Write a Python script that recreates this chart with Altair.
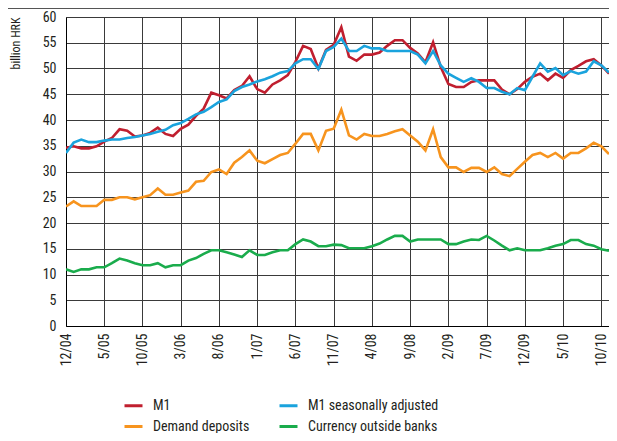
import altair as alt
import pandas as pd

months = list(range(72))
tick_labels = ["12/04", "5/05", "10/05", "3/06", "8/06", "1/07", "6/07", "11/07",
               "4/08", "9/08", "2/09", "7/09", "12/09", "5/10", "10/10"]

m1 = [34.6, 34.9, 34.5, 34.5, 34.9, 35.8, 36.5, 38.2, 37.9, 36.8, 37.0, 37.5,
      38.5, 37.3, 36.9, 38.3, 39.1, 40.8, 42.2, 45.3, 44.8, 44.2, 45.8, 46.6,
      48.5, 46.0, 45.3, 46.9, 47.7, 48.7, 51.3, 54.4, 53.8, 50.0, 53.6, 54.6,
      58.0, 52.3, 51.5, 52.7, 52.7, 53.1, 54.4, 55.5, 55.5, 54.0, 52.9, 51.2,
      55.1, 50.3, 47.0, 46.4, 46.4, 47.4, 47.7, 47.7, 47.7, 45.9, 45.0, 46.0,
      47.4, 48.4, 49.0, 47.7, 49.0, 48.2, 49.7, 50.5, 51.4, 51.8, 50.6, 49.0]

m1_sa = [33.6, 35.6, 36.2, 35.7, 35.7, 36.0, 36.2, 36.2, 36.5, 36.7, 37.0, 37.3,
         37.7, 38.1, 39.0, 39.4, 40.2, 41.1, 41.6, 42.5, 43.5, 44.0, 45.6, 46.4,
         46.9, 47.5, 47.9, 48.5, 49.2, 49.5, 51.0, 51.8, 51.8, 49.9, 53.4, 54.2,
         55.8, 53.4, 53.4, 54.4, 53.9, 53.9, 53.4, 53.4, 53.4, 53.4, 52.7, 51.0,
         53.4, 50.6, 49.0, 48.2, 47.4, 48.1, 47.4, 46.2, 46.2, 45.5, 45.0, 46.2,
         45.8, 48.4, 51.0, 49.4, 50.1, 48.7, 49.5, 49.0, 49.4, 51.4, 50.6, 49.2]

demand = [23.2, 24.2, 23.3, 23.3, 23.3, 24.5, 24.5, 25.0, 25.0, 24.6, 25.0, 25.4,
          26.7, 25.5, 25.5, 25.9, 26.3, 28.0, 28.2, 29.9, 30.4, 29.5, 31.7, 32.8,
          34.1, 32.1, 31.6, 32.4, 33.2, 33.6, 35.4, 37.3, 37.3, 34.1, 37.9, 38.3,
          42.0, 37.0, 36.2, 37.3, 36.9, 36.9, 37.3, 37.8, 38.2, 37.0, 35.8, 34.1,
          38.2, 32.8, 30.8, 30.8, 29.9, 30.7, 30.7, 29.9, 30.8, 29.5, 29.1, 30.5,
          31.9, 33.2, 33.6, 32.8, 33.6, 32.5, 33.6, 33.6, 34.5, 35.6, 34.9, 33.4]

currency = [11.0, 10.5, 11.0, 11.0, 11.4, 11.4, 12.2, 13.1, 12.7, 12.2, 11.8, 11.8,
            12.2, 11.4, 11.8, 11.8, 12.7, 13.2, 14.0, 14.7, 14.7, 14.3, 13.9, 13.4,
            14.7, 13.8, 13.8, 14.3, 14.7, 14.7, 15.9, 16.8, 16.4, 15.5, 15.5, 15.8,
            15.7, 15.1, 15.1, 15.1, 15.5, 16.0, 16.8, 17.5, 17.5, 16.4, 16.8, 16.8,
            16.8, 16.8, 15.9, 15.9, 16.4, 16.8, 16.7, 17.5, 16.6, 15.6, 14.7, 15.1,
            14.7, 14.7, 14.7, 15.1, 15.6, 15.9, 16.7, 16.7, 15.9, 15.6, 14.9, 14.6]

# legend fills column by column: first column M1 / Demand deposits
series_names = ["M1", "Demand deposits", "M1 seasonally adjusted", "Currency outside banks"]
series_colors = ["#c01f2f", "#f7941e", "#1aa3dd", "#1aac4c"]
draw_order = ["Currency outside banks", "Demand deposits", "M1", "M1 seasonally adjusted"]
series_values = {"M1": m1, "M1 seasonally adjusted": m1_sa,
                 "Demand deposits": demand, "Currency outside banks": currency}

rows = []
for name in draw_order:
    for i, v in zip(months, series_values[name]):
        rows.append({"month": i, "value": v, "series": name})
df = pd.DataFrame(rows)

label_expr = "[" + ",".join("'%s'" % t for t in tick_labels) + "][round(datum.value/5)]"

FONT = "Liberation Sans Narrow, Roboto Condensed, Arial Narrow, Liberation Sans"
W, H = 543, 309

lines = alt.Chart(df).mark_line(strokeWidth=2.6, clip=True).encode(
    x=alt.X("month:Q",
            scale=alt.Scale(domain=[0, 71], nice=False, zero=False),
            axis=alt.Axis(values=list(range(0, 71, 5)), labelExpr=label_expr,
                          labelAngle=-90, title=None, grid=True, ticks=False,
                          labelFontSize=14, labelPadding=7, labelFont=FONT,
                          labelColor="#231f20", domainColor="#000000",
                          gridColor="#3a3a3a", gridWidth=1)),
    y=alt.Y("value:Q",
            scale=alt.Scale(domain=[0, 60], nice=False),
            axis=alt.Axis(values=list(range(0, 61, 5)), title="billion HRK",
                          titleFont=FONT, titleFontSize=12, titleFontWeight="normal",
                          titleColor="#231f20", titleAngle=-90, titleX=-51, titleY=0,
                          titleAlign="right", titleBaseline="middle",
                          grid=True, ticks=False, labelFontSize=14, labelPadding=10,
                          labelFont=FONT, labelColor="#231f20",
                          domainColor="#000000", gridColor="#3a3a3a", gridWidth=1)),
    color=alt.Color("series:N",
                    scale=alt.Scale(domain=series_names, range=series_colors),
                    legend=alt.Legend(title=None, orient="none", legendX=57, legendY=378,
                                      columns=2, symbolType="stroke", symbolSize=324,
                                      symbolStrokeWidth=3, labelFont=FONT,
                                      labelFontSize=14, labelColor="#231f20",
                                      labelOffset=9, columnPadding=23, rowPadding=3,
                                      padding=0, labelLimit=300)),
    detail="series:N",
)

top_rule = alt.Chart(pd.DataFrame({"k": [0]})).mark_rule(color="#555555", strokeWidth=1).encode(
    x=alt.value(-58), x2=alt.value(W + 10), y=alt.value(-8.5)
)

chart = alt.layer(lines, top_rule).properties(
    width=W, height=H,
    autosize=alt.AutoSizeParams(type="none"),
    padding={"left": 58, "top": 9, "right": 0, "bottom": 107},
).configure_view(stroke=None).configure(background="white")

chart.save("out.html", embed_options={"renderer": "svg", "actions": False})
